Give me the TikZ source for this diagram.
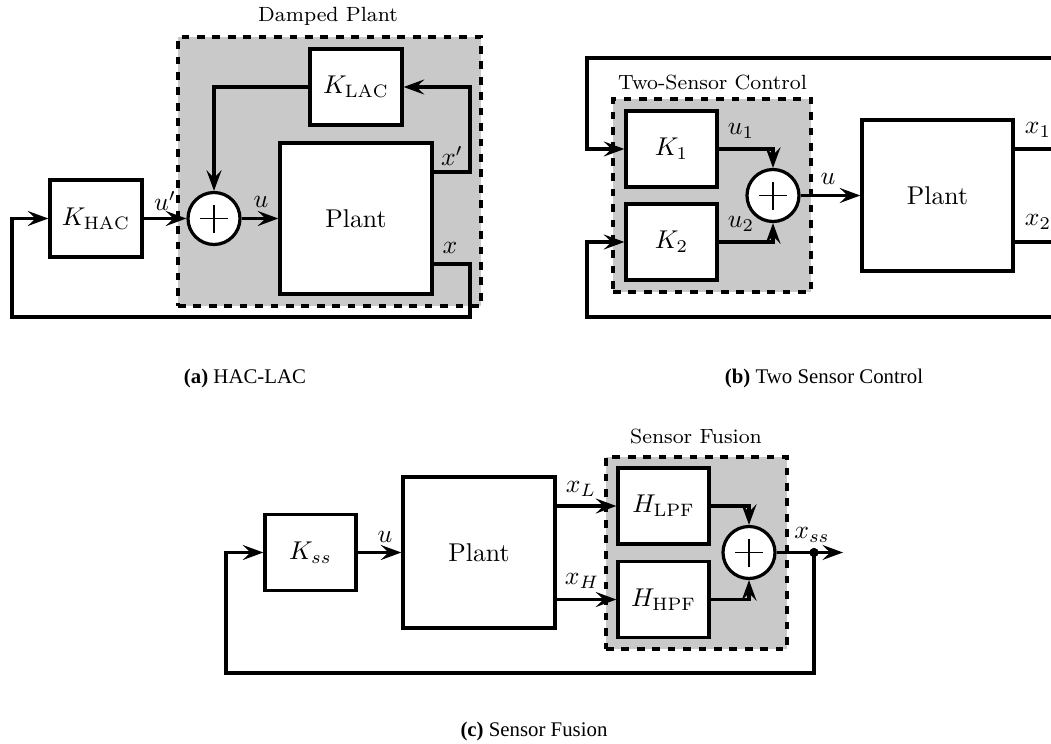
\documentclass[tikz,border=0pt]{standalone}
\usepackage{fontspec}
\newfontfamily\capfont{Liberation Serif}
\usetikzlibrary{arrows.meta}
\def\pxu{0.389}
\tikzset{
  block/.style={draw, line width=1.25pt, fill=white, inner sep=0pt},
  sumnode/.style={circle, draw, line width=1.25pt, fill=white, inner sep=0pt, minimum size={52*\pxu pt}},
  conn/.style={line width=1.25pt},
  arr/.style={line width=1.25pt, -{Stealth[length=8pt,width=5.8pt,inset=3pt]}},
  plusline/.style={line width=0.5pt},
  group/.style={draw, dashed, line width=1.25pt, fill=black!21, inner sep=0pt},
  grouptitle/.style={font=\footnotesize, inner sep=0pt},
  lbl/.style={inner sep=0pt},
  subcap/.style={inner sep=0pt, font=\capfont\fontsize{8.1}{9.8}\selectfont},
  dotnode/.style={circle, fill=black, inner sep=0pt, minimum size={9*\pxu pt}}
}
\begin{document}
\begin{tikzpicture}[x=0.389pt,y=-0.389pt]
\clip (0,0) rectangle (1051,744);
\fill[white] (0,0) rectangle (1051,744);

% ---------------- (a) HAC-LAC ----------------
\node[group, minimum width={303*\pxu pt}, minimum height={269*\pxu pt}] (DP) at (329.5,171.5) {};
\node[grouptitle] (DPt) at (328,16) {Damped Plant};
\node[block, minimum width={92*\pxu pt}, minimum height={76*\pxu pt}] (KLAC) at (356,87) {$K_{\mathrm{LAC}}$};
\node[block, minimum width={152*\pxu pt}, minimum height={151*\pxu pt}] (PA) at (356,218.5) {Plant};
\node[sumnode] (SA) at (214,218.5) {};
\node[block, minimum width={92*\pxu pt}, minimum height={77*\pxu pt}] (KHAC) at (96,218.5) {$K_{\mathrm{HAC}}$};
\coordinate (A1) at (470,172);
\coordinate (A2) at (470,264);
\coordinate (A3) at (470,317);
\coordinate (A4) at (12,317);
\draw[arr] (KHAC) -- (SA);
\draw[arr] (SA) -- (PA);
\draw[arr] (PA.east |- A1) -- (A1) |- (KLAC.east);
\draw[arr] (KLAC.west) -| (SA.north);
\draw[arr] (PA.east |- A2) -- (A2) -- (A3) -- (A4) |- (KHAC.west);
\node[lbl] (LupA) at (165,201) {$u'$};
\node[lbl] (LuA) at (261,202) {$u$};
\node[lbl] (LxpA) at (452,156) {$x'$};
\node[lbl] (LxA) at (450,248) {$x$};

% ---------------- (b) Two Sensor Control ----------------
\node[group, minimum width={198*\pxu pt}, minimum height={193*\pxu pt}] (TS) at (712,195.5) {};
\node[grouptitle] (TSt) at (712.5,82) {Two-Sensor Control};
\node[block, minimum width={91*\pxu pt}, minimum height={76*\pxu pt}] (K1) at (671.5,149) {$K_1$};
\node[block, minimum width={91*\pxu pt}, minimum height={76*\pxu pt}] (K2) at (671.5,242) {$K_2$};
\node[sumnode] (SB) at (773,195.5) {};
\node[block, minimum width={151*\pxu pt}, minimum height={151*\pxu pt}] (PB) at (937.5,195.5) {Plant};
\coordinate (B1) at (1070,149);
\coordinate (B2) at (1070,58);
\coordinate (B3) at (587,58);
\coordinate (B4) at (1070,242);
\coordinate (B5) at (1070,317);
\coordinate (B6) at (587,317);
\draw[arr] (PB.east |- B1) -- (B1) -- (B2) -- (B3) |- (K1.west);
\draw[arr] (PB.east |- B4) -- (B4) -- (B5) -- (B6) |- (K2.west);
\draw[arr] (K1.east) -| (SB.north);
\draw[arr] (K2.east) -| (SB.south);
\draw[arr] (SB) -- (PB);
\node[lbl] (Lu1) at (741,131) {$u_1$};
\node[lbl] (Lu2) at (741,224) {$u_2$};
\node[lbl] (LuB) at (828,179) {$u$};
\node[lbl] (Lx1) at (1038,130) {$x_1$};
\node[lbl] (Lx2) at (1038,222) {$x_2$};

% ---------------- (c) Sensor Fusion ----------------
\node[group, minimum width={181*\pxu pt}, minimum height={192*\pxu pt}] (SF) at (696.5,553) {};
\node[grouptitle] (SFt) at (696,436) {Sensor Fusion};
\node[block, minimum width={91*\pxu pt}, minimum height={76*\pxu pt}] (Kss) at (310.5,552.5) {$K_{ss}$};
\node[block, minimum width={152*\pxu pt}, minimum height={151*\pxu pt}] (PC) at (479,552.5) {Plant};
\node[block, minimum width={91*\pxu pt}, minimum height={76*\pxu pt}] (HL) at (663.5,506) {$H_{\mathrm{LPF}}$};
\node[block, minimum width={91*\pxu pt}, minimum height={76*\pxu pt}] (HH) at (663.5,599.5) {$H_{\mathrm{HPF}}$};
\node[sumnode] (SC) at (749,552.5) {};
\coordinate (C0) at (843,552.5);
\coordinate (C1) at (814,673);
\coordinate (C2) at (226,673);
\node[dotnode] (D) at (814,552.5) {};
\draw[arr] (SC) -- (C0);
\draw[arr] (D.center) -- (C1) -- (C2) |- (Kss.west);
\draw[arr] (Kss) -- (PC);
\draw[arr] (PC.east |- HL.west) -- (HL.west);
\draw[arr] (PC.east |- HH.west) -- (HH.west);
\draw[arr] (HL.east) -| (SC.north);
\draw[arr] (HH.east) -| (SC.south);
\node[dotnode] at (D) {};
\node[lbl] (LuC) at (385,537) {$u$};
\node[lbl] (LxL) at (581,489) {$x_L$};
\node[lbl] (LxH) at (582,581) {$x_H$};
\node[lbl] (Lxss) at (812,535) {$x_{ss}$};

% plus signs
\foreach \s in {SA,SB,SC} {
  \draw[plusline] (\s.center) +(-14,0) -- +(14,0);
  \draw[plusline] (\s.center) +(0,-14) -- +(0,14);
}

% ---------------- captions ----------------
\node[subcap] (CapA) at (245,378) {\textbf{(a)} HAC-LAC};
\node[subcap] (CapB) at (824,378) {\textbf{(b)} Two Sensor Control};
\node[subcap] (CapC) at (534,731) {\textbf{(c)} Sensor Fusion};
\end{tikzpicture}
\end{document}
